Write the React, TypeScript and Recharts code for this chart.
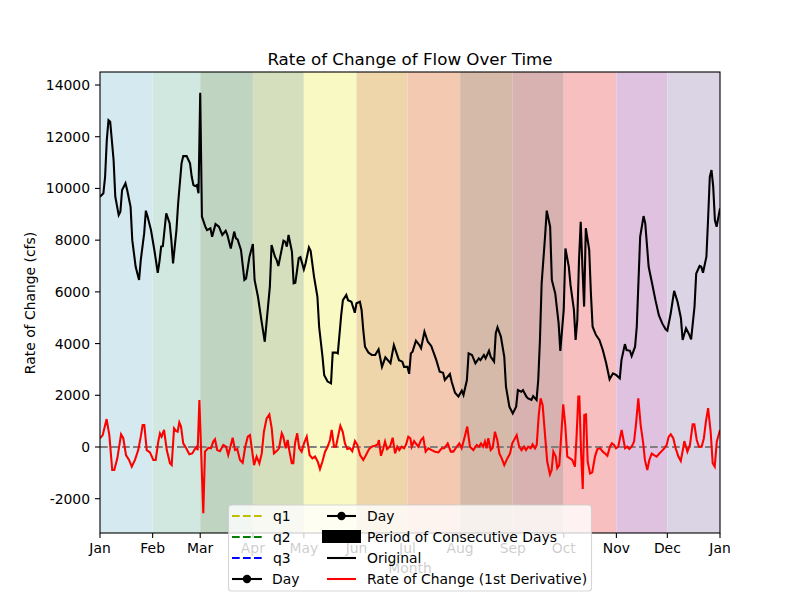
import React from 'react';
import {
  ComposedChart,
  Line,
  XAxis,
  YAxis,
  ReferenceArea,
  ReferenceLine,
} from 'recharts';

const FONT = '"DejaVu Sans", "Liberation Sans", sans-serif';

// Month boundaries (day of year) and labels
const monthStarts = [0, 31, 59, 90, 120, 151, 181, 212, 243, 273, 304, 334, 365];
const monthLabels = ['Jan', 'Feb', 'Mar', 'Apr', 'May', 'Jun', 'Jul', 'Aug', 'Sep', 'Oct', 'Nov', 'Dec', 'Jan'];
const bandColors = [
  '#d4eaf0', '#d0e8e0', '#c0d4c2', '#d6dfbd', '#f9f9c3', '#eed6aa',
  '#f3c9b1', '#d6baa9', '#d7b2b0', '#f7bfbf', '#dfc2e0', '#dbd4e5',
];

const yTicks = [-2000, 0, 2000, 4000, 6000, 8000, 10000, 12000, 14000];

// Original flow series (day of year, cfs)
const originalDays = [
  0, 2, 3, 4, 5, 6, 8, 9, 11, 12, 13, 15, 16, 18, 19, 21, 23, 24, 26, 27, 28, 30, 32, 34, 35, 36, 37, 39, 41, 42,
  43, 45, 46, 48, 49, 51, 53, 54, 55, 56, 57, 58, 59, 60, 62, 63, 65, 66, 68, 70, 72, 74, 75, 77, 79, 80, 81, 83, 85, 86,
  88, 90, 91, 93, 95, 97, 98, 100, 101, 103, 104, 105, 108, 109, 110, 111, 113, 114, 115, 117, 118, 120, 121, 123, 124, 126, 128, 129, 131, 132,
  134, 136, 137, 139, 140, 142, 143, 145, 146, 148, 150, 151, 153, 154, 155, 156, 158, 160, 162, 164, 166, 168, 171, 173, 176, 178, 179, 181, 182, 183,
  184, 186, 188, 189, 191, 193, 195, 198, 200, 202, 203, 206, 207, 209, 211, 213, 214, 216, 217, 219, 221, 223, 224, 226, 227, 229, 230, 232, 233, 234,
  236, 238, 239, 241, 243, 245, 246, 248, 249, 251, 252, 254, 255, 257, 258, 259, 260, 262, 263, 265, 266, 268, 270, 271, 273, 274, 276, 277, 279, 280,
  281, 282, 283, 284, 285, 286, 288, 289, 290, 292, 294, 296, 298, 300, 302, 304, 306, 307, 309, 310, 312, 313, 315, 316, 318, 320, 321, 323, 325, 327,
  329, 331, 333, 334, 336, 338, 340, 342, 343, 345, 347, 348, 350, 351, 353, 354, 355, 357, 358, 359, 360, 361, 362, 363, 365,
];
const originalValues = [
  9680, 9810, 10450, 11870, 12640, 12580, 11100, 9680, 8970, 9100, 9940, 10200, 9940, 9290, 8000, 6970, 6460, 7230, 8260, 9140, 8910, 8390, 7620, 6740, 7170, 7750, 7770, 9040, 8650, 8000,
  7100, 8390, 9420, 10970, 11250, 11250, 10970, 10450, 10130, 10090, 10130, 9810, 13700, 8910, 8520, 8390, 8460, 8130, 8620, 8520, 8200, 8360, 8200, 7680, 8330, 8070, 8030, 7620, 6460, 6520,
  7360, 7850, 6460, 5810, 4910, 4070, 4780, 6200, 7810, 7360, 7230, 7000, 7980, 7940, 7750, 8200, 7550, 6330, 6350, 7300, 7340, 6870, 7100, 7720, 7590, 6590, 5810, 4650, 3490, 2780,
  2530, 2460, 3650, 3650, 3620, 5100, 5680, 5880, 5680, 5620, 5190, 5560, 5620, 5300, 4520, 3880, 3650, 3560, 3560, 3780, 3100, 3470, 3240, 3940, 3360, 3300, 3100, 3100, 2830, 3620,
  3690, 4110, 3940, 3820, 4460, 4070, 3910, 3360, 2910, 2870, 2590, 2820, 2530, 2100, 1950, 2180, 2010, 2590, 3620, 3560, 3240, 3430, 3360, 3560, 3430, 3720, 3490, 3300, 4400, 4630,
  4270, 3490, 2330, 1560, 1300, 1560, 2200, 2140, 2200, 1950, 1880, 1820, 1970, 1820, 2590, 4140, 6330, 8130, 9140, 8520, 6460, 5940, 4780, 3720, 5300, 7680, 6970, 6270, 5300, 4140,
  4910, 7230, 8710, 6970, 5430, 8460, 7620, 5940, 4650, 4330, 4140, 3750, 3240, 2620, 2850, 2780, 2660, 3360, 3980, 3750, 3720, 3520, 3880, 4650, 8130, 8930, 8650, 6970, 6330, 5680,
  5100, 4780, 4550, 4500, 5170, 6040, 5620, 4980, 4140, 4590, 4330, 4160, 5430, 6710, 7000, 6970, 6740, 7360, 8840, 10450, 10710, 10070, 8780, 8520, 9230,
];

// Rate of change (1st derivative) series (day of year, cfs/day)
const derivDays = [
  0, 1.6, 3.9, 5.5, 7.2, 8.4, 10.2, 12.4, 13.7, 15.3, 17.1, 18.7, 20.6, 22.5, 24.0, 25.1, 26.1, 27.5, 29.4, 31.4,
  32.8, 34.3, 35.3, 36.3, 37.7, 39.3, 41.2, 42.2, 43.6, 44.7, 45.7, 46.7, 47.7, 49.0, 50.6, 52.6, 54.3, 55.9, 56.9, 57.5,
  58.5, 60.8, 61.8, 63.8, 65.3, 66.7, 67.7, 69.0, 70.6, 72.6, 74.2, 75.5, 76.9, 78.1, 79.5, 80.8, 82.4, 84.0, 85.5, 87.0,
  88.3, 89.5, 90.7, 92.2, 93.8, 95.2, 96.5, 98.1, 99.7, 101.1, 102.4, 104.0, 105.4, 107.0, 107.9, 109.3, 110.5, 111.4, 112.9, 113.8,
  114.8, 116.1, 117.3, 118.7, 120.1, 121.7, 123.4, 125.0, 126.6, 128.2, 129.5, 130.9, 132.5, 134.0, 135.4, 136.4, 137.8, 138.9, 140.3, 141.5,
  142.9, 144.2, 145.6, 147.2, 148.5, 150.1, 151.5, 153.1, 155.0, 156.6, 158.4, 159.9, 161.9, 163.5, 164.2, 165.4, 166.8, 167.8, 169.0, 170.7,
  172.3, 173.7, 175.0, 176.2, 177.6, 179.0, 180.1, 181.5, 182.7, 183.5, 184.9, 185.9, 187.4, 189.0, 190.3, 191.7, 193.3, 195.3, 197.2, 199.2,
  201.2, 202.7, 204.7, 206.5, 208.0, 210.0, 211.5, 212.9, 214.5, 216.2, 217.8, 219.8, 221.8, 223.1, 224.3, 225.6, 226.6, 227.6, 228.6, 230.0,
  231.2, 232.5, 233.9, 235.1, 236.5, 238.0, 239.8, 241.4, 242.7, 245.3, 246.8, 248.2, 249.6, 250.8, 252.1, 253.5, 254.7, 256.1, 257.1, 258.3,
  259.4, 260.6, 262.0, 263.3, 264.9, 265.9, 266.9, 268.3, 269.2, 270.4, 271.8, 272.7, 273.9, 275.1, 276.7, 278.0, 279.6, 280.6, 281.6, 282.2,
  283.2, 284.2, 285.1, 286.1, 287.1, 288.5, 289.8, 291.4, 292.8, 294.4, 296.0, 297.3, 298.7, 300.2, 301.4, 302.6, 303.8, 305.1, 306.1, 307.1,
  308.0, 309.1, 310.4, 311.6, 313.0, 314.4, 315.5, 316.9, 318.3, 319.8, 320.8, 322.2, 323.4, 324.8, 326.2, 327.7, 329.3, 330.7, 332.2, 333.6,
  334.8, 336.0, 337.5, 338.9, 340.5, 341.9, 343.1, 344.0, 345.0, 345.8, 347.3, 348.9, 349.9, 351.3, 352.6, 354.2, 355.5, 356.7, 358.0, 359.5,
  360.7, 361.9, 363.1, 365.0,
];
const derivValues = [
  340, 460, 1080, 460, -890, -890, -440, 490, 340, -310, -500, -760, -500, -120, 400, 850, 850, -120, -210, -500,
  -500, 210, 530, 400, 660, -120, -630, -700, 720, 620, 590, 950, 790, 140, -30, -280, -250, -80, 10, -120,
  1820, -2560, -180, -30, -50, 210, 300, -120, -160, 80, 10, -310, 50, 360, -120, -80, -500, -610, 10, 400,
  460, -120, -700, -370, -630, -250, 590, 1110, 1260, 720, -250, -160, -50, 530, 400, -50, 270, -120, -630, -630,
  140, 530, -50, -180, 140, 400, -310, -440, -370, -570, -850, -570, -180, 10, 270, 660, 10, 10, 460, 820,
  590, 140, -80, -50, -160, 230, 80, -310, -500, -310, -80, 10, 50, 100, 270, -340, -50, 210, -80, 10,
  360, -250, 10, -120, 10, -50, 80, 400, 340, 10, 230, 140, 10, 270, 360, -180, -50, -120, -180, -210,
  -50, -50, 140, -180, -180, 10, 140, -50, 340, 790, 10, -120, 80, 10, 140, 10, 210, -50, 340, -120,
  -30, 590, 270, -250, -440, -700, -440, -250, 140, 460, 10, -120, 10, -120, 10, -50, 100, -50, 80, 1240,
  1880, 1620, 460, -570, -1060, -890, -180, -370, -820, -700, 720, 1650, 850, -370, -440, -500, -760, 460, 1950, 1950,
  -180, -1620, 1240, 1260, -570, -1020, -980, -370, -80, -50, -180, -250, -340, 10, 140, 80, -50, 10, 340, 660,
  340, -50, 10, -80, 10, 210, 850, 1880, 850, 140, -500, -890, -500, -250, -310, -370, -250, -160, -50, 80,
  400, 490, 340, -50, -370, -540, -120, 230, 10, -180, 80, 880, 880, 270, 10, 10, 340, 980, 1500, 590,
  -630, -760, 210, 660,
];

const originalData = originalDays.map((d, i) => ({ day: d, v: originalValues[i] }));
const derivData = derivDays.map((d, i) => ({ day: d, v: derivValues[i] }));

const monthLabelFor = (v: number) => {
  const i = monthStarts.indexOf(v);
  return i >= 0 ? monthLabels[i] : '';
};

const TICK_FS = 13.9;

export default function App() {
  const tickStyle = { fill: '#000', fontSize: TICK_FS, fontFamily: FONT };
  return (
    <div style={{ position: 'absolute', left: 0, top: 0, width: 800, height: 600, background: '#fff', fontFamily: FONT }}>
      <ComposedChart width={800} height={600} margin={{ top: 72, right: 80, bottom: 37, left: 40 }}>
        <XAxis
          type="number"
          dataKey="day"
          domain={[0, 365]}
          ticks={monthStarts}
          tickFormatter={monthLabelFor}
          allowDataOverflow
          interval={0}
          axisLine={false}
          stroke="#000"
          tickLine={{ stroke: '#000', strokeWidth: 1.1 }}
          tickSize={5}
          tickMargin={5}
          tick={tickStyle}
          height={30}
        />
        <YAxis
          type="number"
          domain={[-3326, 14503]}
          ticks={yTicks}
          allowDataOverflow
          interval={0}
          width={60}
          axisLine={false}
          stroke="#000"
          tickLine={{ stroke: '#000', strokeWidth: 1.1 }}
          tickSize={5}
          tickMargin={5}
          tick={tickStyle}
        />
        {bandColors.map((c, i) => (
          <ReferenceArea
            key={i}
            x1={monthStarts[i]}
            x2={monthStarts[i + 1]}
            fill={c}
            fillOpacity={1}
            stroke="none"
            ifOverflow="hidden"
          />
        ))}
        <ReferenceLine y={0} stroke="#808080" strokeWidth={2.08} strokeDasharray="7.7 3.3" />
        <Line
          data={originalData}
          dataKey="v"
          type="linear"
          stroke="#000"
          strokeWidth={2.08}
          dot={false}
          activeDot={false}
          isAnimationActive={false}
        />
        <Line
          data={derivData}
          dataKey="v"
          type="linear"
          stroke="#ff0000"
          strokeWidth={2.08}
          dot={false}
          activeDot={false}
          isAnimationActive={false}
        />
      </ComposedChart>
      <svg
        width={800}
        height={600}
        style={{ position: 'absolute', left: 0, top: 0, pointerEvents: 'none' }}
        fontFamily={FONT}
      >
        <rect x={100} y={72} width={620} height={461} fill="none" stroke="#000" strokeWidth={1.1} />
        <text x={410} y={64.5} textAnchor="middle" fontSize={16.7} fill="#000">
          Rate of Change of Flow Over Time
        </text>
        <text
          x={35}
          y={303}
          textAnchor="middle"
          fontSize={TICK_FS}
          fill="#000"
          transform="rotate(-90 35 303)"
        >
          Rate of Change (cfs)
        </text>
        <text x={410} y={573} textAnchor="middle" fontSize={TICK_FS} fill="#000">
          Month
        </text>
        {/* Legend */}
        <rect
          x={228.5}
          y={505}
          width={363}
          height={86}
          rx={3}
          fill="#fff"
          fillOpacity={0.8}
          stroke="#cccccc"
          strokeOpacity={0.8}
          strokeWidth={1.1}
        />
        {/* left column */}
        <line x1={232} y1={516} x2={262} y2={516} stroke="#bfbf00" strokeWidth={2.08} strokeDasharray="7.7 3.3" />
        <text x={273} y={521} fontSize={TICK_FS} fill="#000">q1</text>
        <line x1={232} y1={537} x2={262} y2={537} stroke="#008000" strokeWidth={2.08} strokeDasharray="7.7 3.3" />
        <text x={273} y={542} fontSize={TICK_FS} fill="#000">q2</text>
        <line x1={232} y1={558} x2={262} y2={558} stroke="#0000ff" strokeWidth={2.08} strokeDasharray="7.7 3.3" />
        <text x={273} y={563} fontSize={TICK_FS} fill="#000">q3</text>
        <line x1={232} y1={579} x2={262} y2={579} stroke="#000" strokeWidth={2.08} />
        <circle cx={247} cy={579} r={4.2} fill="#000" />
        <text x={272} y={584} fontSize={TICK_FS} fill="#000">Day</text>
        {/* right column */}
        <line x1={327} y1={516} x2={356} y2={516} stroke="#000" strokeWidth={2.08} />
        <circle cx={341.5} cy={516} r={4.2} fill="#000" />
        <text x={367} y={521} fontSize={TICK_FS} fill="#000">Day</text>
        <rect x={322} y={530} width={39} height={13} fill="#000" />
        <text x={367} y={542} fontSize={TICK_FS} fill="#000">Period of Consecutive Days</text>
        <line x1={327} y1={558} x2={356} y2={558} stroke="#000" strokeWidth={2.08} />
        <text x={367} y={563} fontSize={TICK_FS} fill="#000">Original</text>
        <line x1={327} y1={579} x2={356} y2={579} stroke="#ff0000" strokeWidth={2.08} />
        <text x={367} y={584} fontSize={TICK_FS} fill="#000">Rate of Change (1st Derivative)</text>
      </svg>
    </div>
  );
}
